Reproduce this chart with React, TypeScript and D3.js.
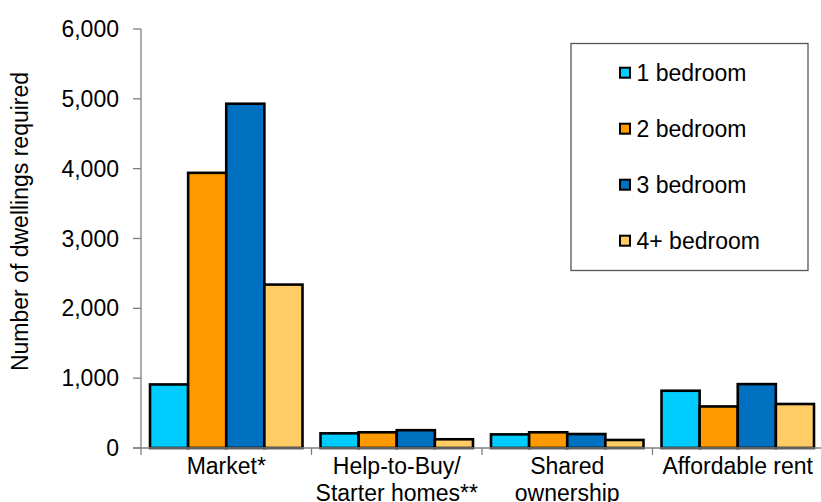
import React from "react";
import * as d3 from "d3";

const categories: string[][] = [
  ["Market*"],
  ["Help-to-Buy/", "Starter homes**"],
  ["Shared", "ownership"],
  ["Affordable rent"],
];
const seriesNames = ["1 bedroom", "2 bedroom", "3 bedroom", "4+ bedroom"];
const seriesColors = ["#00CCFF", "#FF9900", "#0070C0", "#FFCC66"];
const oneBed = [910, 210, 195, 820];
const twoBed = [3940, 225, 225, 595];
const threeBed = [4930, 255, 200, 915];
const fourBed = [2340, 125, 115, 630];
const yTicks = [0, 1000, 2000, 3000, 4000, 5000, 6000];

const W = 821;
const H = 502;
const left = 141;
const right = 823;
const top = 29;
const bottom = 448;
const FONT = "'Liberation Sans', Arial, sans-serif";
const FS = 23;

export default function App() {
  const values = [oneBed, twoBed, threeBed, fourBed];
  const y = d3.scaleLinear().domain([0, 6000]).range([bottom, top]);
  const x0 = d3
    .scaleBand<number>()
    .domain(categories.map((_, i) => i))
    .range([left, right])
    .padding(0);
  const bw = x0.bandwidth();
  const x1 = d3
    .scaleBand<number>()
    .domain(seriesNames.map((_, i) => i))
    .range([9, bw - 9])
    .padding(0);
  const fmt = d3.format(",");
  const axisColor = "#808080";

  return (
    <svg
      width={W}
      height={H}
      style={{ position: "absolute", left: 0, top: 0, background: "#fff" }}
      fontFamily={FONT}
    >
      {/* bars */}
      {categories.map((_, ci) =>
        values.map((vals, si) => {
          const v = vals[ci];
          const bx = (x0(ci) as number) + (x1(si) as number);
          return (
            <rect
              key={`${ci}-${si}`}
              x={bx}
              y={y(v)}
              width={x1.bandwidth()}
              height={bottom - y(v)}
              fill={seriesColors[si]}
              stroke="#000"
              strokeWidth={2.6}
            />
          );
        })
      )}

      {/* y axis */}
      <line x1={left} x2={left} y1={top} y2={bottom} stroke={axisColor} strokeWidth={1.3} />
      {yTicks.map((t) => (
        <g key={t}>
          <line x1={left - 8} x2={left} y1={y(t)} y2={y(t)} stroke={axisColor} strokeWidth={1.3} />
          <text
            x={left - 22}
            y={y(t)}
            dy="0.35em"
            textAnchor="end"
            fontSize={FS}
            fill="#000"
          >
            {fmt(t)}
          </text>
        </g>
      ))}

      {/* x axis */}
      <line x1={left - 8} x2={W} y1={bottom} y2={bottom} stroke={axisColor} strokeWidth={1.3} />
      {categories.map((_, ci) => (
        <line
          key={ci}
          x1={x0(ci) as number}
          x2={x0(ci) as number}
          y1={bottom}
          y2={bottom + 7}
          stroke={axisColor}
          strokeWidth={1.3}
        />
      ))}
      {categories.map((lines, ci) => (
        <text
          key={ci}
          x={(x0(ci) as number) + bw / 2}
          y={474}
          textAnchor="middle"
          fontSize={FS}
          fill="#000"
        >
          {lines.map((l, li) => (
            <tspan key={li} x={(x0(ci) as number) + bw / 2} dy={li === 0 ? 0 : 27}>
              {l}
            </tspan>
          ))}
        </text>
      ))}

      {/* y title */}
      <text
        transform={`translate(27.5, 221.5) rotate(-90)`}
        textAnchor="middle"
        fontSize={FS}
        fill="#000"
      >
        Number of dwellings required
      </text>

      {/* legend */}
      <rect x={571} y={43.5} width={237} height={227} fill="#fff" stroke="#555" strokeWidth={1.3} />
      {seriesNames.map((name, i) => {
        const cy = 72.7 + i * 56;
        return (
          <g key={name}>
            <rect
              x={620}
              y={cy - 5}
              width={10}
              height={10}
              fill={seriesColors[i]}
              stroke="#000"
              strokeWidth={2}
            />
            <text x={636.5} y={cy} dy="0.35em" fontSize={FS} fill="#000">
              {name}
            </text>
          </g>
        );
      })}
    </svg>
  );
}
